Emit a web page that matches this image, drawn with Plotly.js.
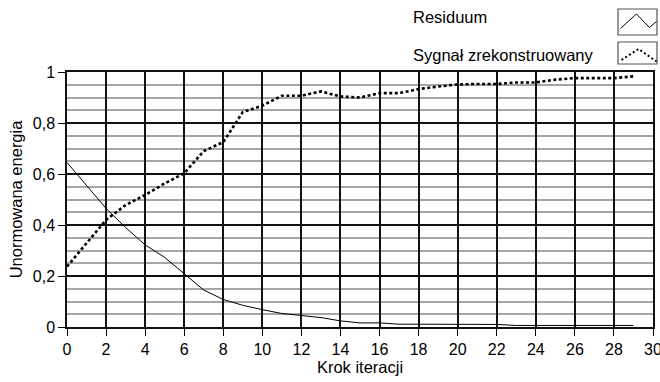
<!DOCTYPE html>
<html>
<head>
<meta charset="utf-8">
<script src="https://cdn.plot.ly/plotly-3.0.1.min.js"></script>
<style>html,body{margin:0;padding:0;background:#fff;}#chart{width:660px;height:382px;}</style>
</head>
<body>
<div id="chart"></div>
<script>
// ---- data ----
const iterations = [0,1,2,3,4,5,6,7,8,9,10,11,12,13,14,15,16,17,18,19,20,21,22,23,24,25,26,27,28,29];
const residuum = [0.645,0.555,0.465,0.39,0.322,0.273,0.21,0.145,0.108,0.085,0.068,0.053,0.045,0.037,0.024,0.016,0.016,0.011,0.011,0.011,0.010,0.010,0.010,0.006,0.006,0.006,0.006,0.006,0.006,0.006];
const sygnal = [0.237,0.33,0.42,0.478,0.518,0.563,0.603,0.69,0.725,0.843,0.868,0.907,0.907,0.924,0.904,0.90,0.917,0.917,0.933,0.943,0.951,0.953,0.953,0.959,0.959,0.970,0.976,0.976,0.976,0.983];
const seriesNames = ["Residuum", "Sygnał zrekonstruowany"];
const xRange = [0, 30];
const yRange = [0, 1];
const xTickVals = [0,2,4,6,8,10,12,14,16,18,20,22,24,26,28,30];
const yTickVals = [0,0.2,0.4,0.6,0.8,1];
const xTitle = "Krok iteracji";
const yTitle = "Unormowana energia";

// ---- layout geometry ----
const W = 660, H = 382;
const M = {l: 67, r: 7, t: 72, b: 55};
const pw = W - M.l - M.r, ph = H - M.t - M.b;
const px2x = p => (p - M.l) / pw;
const py2y = p => (H - M.b - p) / ph;

const textFont = {family: "Liberation Sans, Arial, sans-serif", size: 16.5, color: "#000"};
const tickFont = {family: "Liberation Sans, Arial, sans-serif", size: 16, color: "#000"};

const traces = [
  {x: iterations, y: residuum, name: seriesNames[0], mode: "lines",
   line: {color: "#000", width: 1}},
  {x: iterations, y: sygnal, name: seriesNames[1], mode: "lines",
   line: {color: "#000", width: 2.6, dash: "3px,2.5px"}}
];

function pathPx(pts) {
  return pts.map((p, i) => (i ? "L" : "M") + px2x(p[0]).toFixed(4) + "," + py2y(p[1]).toFixed(4)).join(" ");
}

const shapes = [
  {type: "rect", xref: "paper", yref: "paper", x0: px2x(618), x1: px2x(657), y0: py2y(35), y1: py2y(9),
   line: {color: "#555", width: 1.2}, fillcolor: "rgba(0,0,0,0)"},
  {type: "rect", xref: "paper", yref: "paper", x0: px2x(618), x1: px2x(657), y0: py2y(64), y1: py2y(42),
   line: {color: "#555", width: 1.2}, fillcolor: "rgba(0,0,0,0)"},
  {type: "path", xref: "paper", yref: "paper", path: pathPx([[620.5,28.5],[636.5,14],[649.5,27.5],[656.5,21.5]]),
   line: {color: "#000", width: 1}},
  {type: "path", xref: "paper", yref: "paper", path: pathPx([[621.5,60],[638.5,49],[656.5,61.5]]),
   line: {color: "#000", width: 2, dash: "2px,2.5px"}}
];

const annotations = [
  {text: seriesNames[0], xref: "paper", yref: "paper", x: px2x(411), y: py2y(17), xanchor: "left", yanchor: "middle",
   showarrow: false, font: textFont},
  {text: seriesNames[1], xref: "paper", yref: "paper", x: px2x(411), y: py2y(55), xanchor: "left", yanchor: "middle",
   showarrow: false, font: textFont}
];

const layout = {
  width: W, height: H,
  margin: M,
  paper_bgcolor: "#fff", plot_bgcolor: "#fff",
  showlegend: false,
  separators: ", ",
  xaxis: {
    autorange: true,
    autorangeoptions: {minallowed: xRange[0], maxallowed: xRange[1], include: xRange},
    nticks: xTickVals.length,
    showgrid: true, gridcolor: "#111", gridwidth: 1.5,
    zeroline: false, showline: true, mirror: true, linecolor: "#111", linewidth: 1.5,
    ticks: "outside", ticklen: 7, tickwidth: 1.3, tickcolor: "#000",
    ticklabeloverflow: "allow",
    tickfont: tickFont,
    title: {text: xTitle, font: textFont, standoff: 3}
  },
  yaxis: {
    autorange: true,
    autorangeoptions: {minallowed: yRange[0], maxallowed: yRange[1], include: yRange},
    nticks: yTickVals.length,
    showgrid: true, gridcolor: "#111", gridwidth: 1.5,
    minor: {dtick: 0.05, tick0: 0, showgrid: true, gridcolor: "#a5a5a5", gridwidth: 1.6},
    zeroline: false, showline: true, mirror: true, linecolor: "#111", linewidth: 1.5,
    ticks: "outside", ticklen: 7, tickwidth: 1.3, tickcolor: "#000",
    ticklabeloverflow: "allow",
    tickfont: tickFont,
    title: {text: yTitle, font: textFont, standoff: 6}
  },
  shapes: shapes,
  annotations: annotations
};

function visibleTicks(sel, dim) {
  return Array.from(document.querySelectorAll(sel)).filter(p => {
    try { const b = p.getBBox(); return b[dim] > 2; } catch (e) { return false; }
  }).length;
}

Plotly.newPlot("chart", traces, layout, {displayModeBar: false}).then(gd => {
  // fallback: if the tick marks were not drawn, add them as small paper-referenced lines
  const extra = [];
  if (visibleTicks("path.xtick", "height") === 0) {
    xTickVals.forEach(v => {
      const fx = (v - xRange[0]) / (xRange[1] - xRange[0]);
      extra.push({type: "line", xref: "paper", yref: "paper", x0: fx, x1: fx,
        y0: -3 / ph, y1: -10 / ph, line: {color: "#000", width: 1.3}});
    });
  }
  if (visibleTicks("path.ytick", "width") === 0) {
    yTickVals.forEach(v => {
      const fy = (v - yRange[0]) / (yRange[1] - yRange[0]);
      extra.push({type: "line", xref: "paper", yref: "paper", x0: -2 / pw, x1: -9 / pw,
        y0: fy, y1: fy, line: {color: "#000", width: 1.3}});
    });
  }
  if (extra.length) Plotly.relayout(gd, {shapes: shapes.concat(extra)});
});
</script>
</body>
</html>
